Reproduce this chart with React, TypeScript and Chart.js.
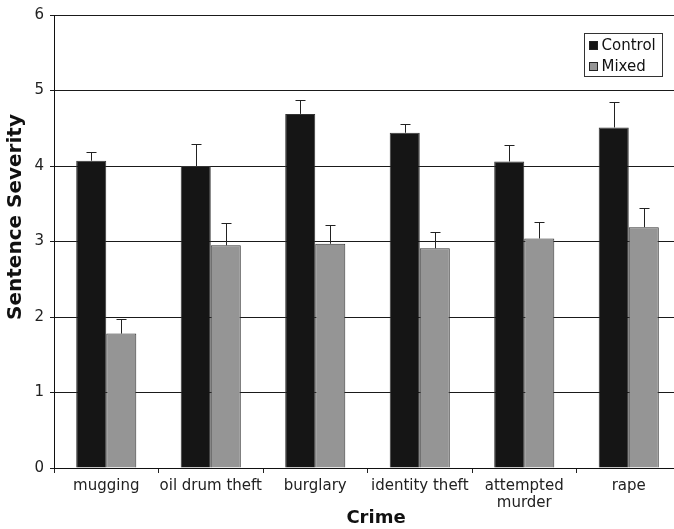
import React, { useEffect, useRef } from "react";
import { Chart, registerables } from "chart.js";

Chart.register(...registerables);

const crimes: (string | string[])[] = [
  "mugging",
  "oil drum theft",
  "burglary",
  "identity theft",
  ["attempted", "murder"],
  "rape",
];
const controlMeans = [4.07, 4.0, 4.69, 4.44, 4.06, 4.51];
const controlErrors = [0.12, 0.29, 0.18, 0.12, 0.22, 0.34];
const mixedMeans = [1.78, 2.95, 2.97, 2.91, 3.04, 3.19];
const mixedErrors = [0.2, 0.3, 0.25, 0.22, 0.22, 0.26];
const yTicks = [0, 1, 2, 3, 4, 5, 6];
const xTitle = "Crime";
const yTitle = "Sentence Severity";

const FONT = "'DejaVu Sans', Verdana, sans-serif";
const CONTROL_FILL = "#151515";
const MIXED_FILL = "#959595";

// Upward-only error bars with a short cap
const errorBarPlugin = {
  id: "errorBars",
  afterDatasetsDraw(chart: any) {
    const { ctx } = chart;
    const yScale = chart.scales.y;
    const errs = [controlErrors, mixedErrors];
    ctx.save();
    ctx.strokeStyle = "#222";
    ctx.lineWidth = 1;
    chart.data.datasets.forEach((ds: any, di: number) => {
      const meta = chart.getDatasetMeta(di);
      meta.data.forEach((bar: any, i: number) => {
        const v = ds.data[i];
        const top = yScale.getPixelForValue(v + errs[di][i]);
        const base = yScale.getPixelForValue(v);
        const x = Math.round(bar.x) + 0.5;
        ctx.beginPath();
        ctx.moveTo(x, base);
        ctx.lineTo(x, Math.round(top) + 0.5);
        ctx.moveTo(x - 5, Math.round(top) + 0.5);
        ctx.lineTo(x + 5, Math.round(top) + 0.5);
        ctx.stroke();
      });
    });
    ctx.restore();
  },
};

// Axis titles and a boxed legend inside the plot, top right
const annotationsPlugin = {
  id: "annotations",
  afterDraw(chart: any) {
    const { ctx } = chart;
    ctx.save();

    // axis titles
    ctx.fillStyle = "#111";
    ctx.font = `bold 18px ${FONT}`;
    ctx.textAlign = "center";
    ctx.textBaseline = "alphabetic";
    ctx.fillText(xTitle, 376, 523);

    ctx.save();
    ctx.translate(21, 217);
    ctx.rotate(-Math.PI / 2);
    ctx.font = `bold 20px ${FONT}`;
    ctx.fillText(yTitle, 0, 0);
    ctx.restore();

    // legend
    const x0 = 584.5;
    const y0 = 33.5;
    const w = 78;
    const h = 43;
    ctx.fillStyle = "#fff";
    ctx.fillRect(x0, y0, w, h);
    ctx.strokeStyle = "#333";
    ctx.lineWidth = 1;
    ctx.strokeRect(x0, y0, w, h);
    const items = chart.data.datasets.map((d: any) => ({
      label: d.label,
      fill: d.backgroundColor,
    }));
    ctx.font = `15px ${FONT}`;
    ctx.textAlign = "left";
    ctx.textBaseline = "middle";
    items.forEach((it: any, i: number) => {
      const cy = y0 + 12 + i * 21;
      ctx.fillStyle = it.fill;
      ctx.fillRect(x0 + 5, cy - 4, 8, 8);
      ctx.strokeStyle = "#222";
      ctx.strokeRect(x0 + 5, cy - 4, 8, 8);
      ctx.fillStyle = "#111";
      ctx.fillText(it.label, x0 + 17, cy + 1);
    });
    ctx.restore();
  },
};

export default function App() {
  const canvasRef = useRef<HTMLCanvasElement | null>(null);

  useEffect(() => {
    document.body.style.margin = "0";
    const canvas = canvasRef.current;
    if (!canvas) return;
    const chart = new Chart(canvas, {
      type: "bar",
      data: {
        labels: crimes,
        datasets: [
          {
            label: "Control",
            data: controlMeans,
            backgroundColor: CONTROL_FILL,
            borderColor: "#333",
            borderWidth: 1,
          },
          {
            label: "Mixed",
            data: mixedMeans,
            backgroundColor: MIXED_FILL,
            borderColor: "#333",
            borderWidth: 1,
          },
        ],
      },
      options: {
        responsive: false,
        animation: false,
        devicePixelRatio: 1,
        layout: { padding: { left: 0, right: 9, top: 14, bottom: 0 } },
        datasets: {
          bar: { categoryPercentage: 0.575, barPercentage: 1 },
        },
        plugins: {
          legend: { display: false },
          tooltip: { enabled: false },
        },
        scales: {
          x: {
            offset: true,
            grid: {
              display: true,
              offset: true,
              drawOnChartArea: false,
              drawTicks: true,
              tickLength: 5,
              color: "#222",
            },
            border: { display: true, color: "#111", width: 1 },
            ticks: {
              color: "#222",
              padding: 5,
              maxRotation: 0,
              autoSkip: false,
              font: { family: FONT, size: 15, lineHeight: 1.1 },
            },
            afterFit(scale: any) {
              scale.height = 61;
            },
          },
          y: {
            min: 0,
            max: 6,
            afterBuildTicks(scale: any) {
              scale.ticks = yTicks.map((v) => ({ value: v }));
            },
            grid: {
              color: "#1a1a1a",
              lineWidth: 1,
              tickLength: 4,
            },
            border: { display: true, color: "#111", width: 1 },
            ticks: {
              color: "#222",
              padding: 6,
              font: { family: FONT, size: 15 },
            },
            afterFit(scale: any) {
              scale.width = 54;
            },
          },
        },
      },
      plugins: [errorBarPlugin, annotationsPlugin],
    });
    return () => chart.destroy();
  }, []);

  return (
    <div
      style={{
        position: "absolute",
        left: 0,
        top: 0,
        width: 674,
        height: 529,
        overflow: "hidden",
        background: "#fff",
      }}
    >
      <canvas ref={canvasRef} width={690} height={529} style={{ display: "block" }} />
    </div>
  );
}
